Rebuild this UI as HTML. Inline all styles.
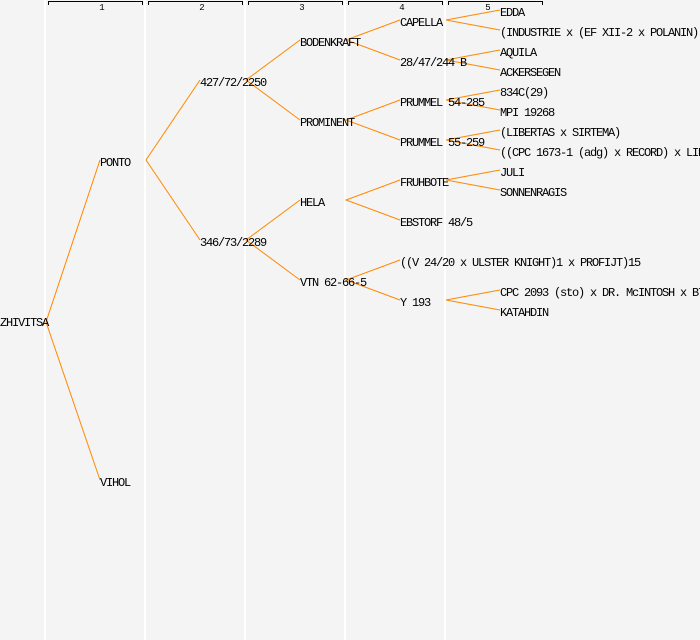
<!DOCTYPE html>
<html><head><meta charset="utf-8"><style>
html,body{margin:0;padding:0;background:#f4f4f4;}
svg{display:block;}
text{font-family:"Liberation Mono",monospace;font-size:12px;letter-spacing:-1.2px;fill:#000;}
.h{font-size:9px;letter-spacing:0;text-anchor:middle;}
</style></head><body>
<svg width="700" height="640" xmlns="http://www.w3.org/2000/svg">
<rect width="700" height="640" fill="#f4f4f4"/>
<g stroke="#fff" stroke-width="2">
<line x1="45" y1="0" x2="45" y2="640"/><line x1="145" y1="0" x2="145" y2="640"/>
<line x1="245" y1="0" x2="245" y2="640"/><line x1="345" y1="0" x2="345" y2="640"/>
<line x1="445" y1="0" x2="445" y2="640"/>
</g>
<g stroke="#000" stroke-width="1" fill="none">
<path d="M48.5 5V1.5H142.5V5"/><path d="M148.5 5V1.5H242.5V5"/><path d="M248.5 5V1.5H342.5V5"/><path d="M348.5 5V1.5H442.5V5"/><path d="M448.5 5V1.5H542.5V5"/>
</g>
<text class="h" x="102" y="10">1</text><text class="h" x="202" y="10">2</text><text class="h" x="302" y="10">3</text><text class="h" x="402" y="10">4</text><text class="h" x="488" y="10">5</text>
<g stroke="#ff8800" stroke-width="1" fill="none">
<path d="M100 160L46 322L100 480"/>
<path d="M200 80L146 160L200 240"/>
<path d="M300 40L246 80L300 120"/>
<path d="M300 200L246 240L300 280"/>
<path d="M400 20L346 40L400 60"/>
<path d="M400 100L346 120L400 140"/>
<path d="M400 180L346 200L400 220"/>
<path d="M400 260L346 280L400 300"/>
<path d="M500 10L446 20L500 30"/>
<path d="M500 50L446 60L500 70"/>
<path d="M500 90L446 100L500 110"/>
<path d="M500 130L446 140L500 150"/>
<path d="M500 170L446 180L500 190"/>
<path d="M500 290L446 300L500 310"/>
</g>
<text x="0" y="326">ZHIVITSA</text>
<text x="100" y="166">PONTO</text>
<text x="100" y="486">VIHOL</text>
<text x="200" y="86">427/72/2250</text>
<text x="200" y="246">346/73/2289</text>
<text x="300" y="46">BODENKRAFT</text>
<text x="300" y="126">PROMINENT</text>
<text x="300" y="206">HELA</text>
<text x="300" y="286">VTN 62-66-5</text>
<text x="400" y="26">CAPELLA</text>
<text x="400" y="66">28/47/244 B</text>
<text x="400" y="106">PRUMMEL 54-285</text>
<text x="400" y="146">PRUMMEL 55-259</text>
<text x="400" y="186">FRUHBOTE</text>
<text x="400" y="226">EBSTORF 48/5</text>
<text x="400" y="266">((V 24/20 x ULSTER KNIGHT)1 x PROFIJT)15</text>
<text x="400" y="306">Y 193</text>
<text x="500" y="16">EDDA</text>
<text x="500" y="36">(INDUSTRIE x (EF XII-2 x POLANIN))</text>
<text x="500" y="56">AQUILA</text>
<text x="500" y="76">ACKERSEGEN</text>
<text x="500" y="96">834C(29)</text>
<text x="500" y="116">MPI 19268</text>
<text x="500" y="136">(LIBERTAS x SIRTEMA)</text>
<text x="500" y="156">((CPC 1673-1 (adg) x RECORD) x LIBERTAS)</text>
<text x="500" y="176">JULI</text>
<text x="500" y="196">SONNENRAGIS</text>
<text x="500" y="296">CPC 2093 (sto) x DR. McINTOSH x B7</text>
<text x="500" y="316">KATAHDIN</text>
</svg>
</body></html>
